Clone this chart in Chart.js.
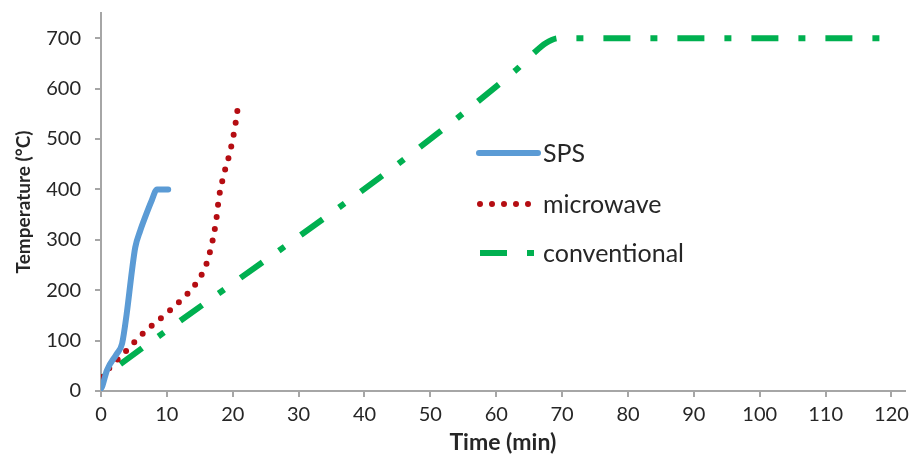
<!DOCTYPE html>
<html>
<head>
<meta charset="utf-8">
<script src="https://cdn.jsdelivr.net/npm/chart.js@4.4.1/dist/chart.umd.min.js"></script>
<style>
  html, body { margin: 0; padding: 0; background: #fff; }
  #wrap { width: 915px; height: 456px; position: relative; }
</style>
</head>
<body>
<div id="wrap"><canvas id="myChart"></canvas></div>
<script>
// time (min) / temperature (°C)
var spsTime = [0, 0.15, 0.9, 2.4, 3.2, 3.9, 4.7, 5.2, 5.95, 6.7, 7.7, 8.5, 10.2];
var spsTemp = [5, 8, 41, 74, 94, 153, 239, 285, 318, 345, 378, 400, 400];

var mwTime = [0, 1.16, 3.78, 6.35, 9.13, 11.9, 14.4, 16.0, 16.9, 17.5, 17.9, 18.6, 19.5, 20.2, 20.7, 20.9];
var mwTemp = [28, 44, 79, 114, 145, 177, 213, 252, 296, 340, 383, 427, 470, 513, 556, 579];

var convTime = [0, 63, 65.5, 67.5, 69.5, 118.5];
var convTemp = [25, 637, 668, 690, 700, 700];

var seriesNames = ["SPS", "microwave", "conventional"];
var seriesColors = ["#5b9bd5", "#b50d12", "#00b050"];

var xTicks = [0, 10, 20, 30, 40, 50, 60, 70, 80, 90, 100, 110, 120];
var yTicks = [0, 100, 200, 300, 400, 500, 600, 700];

function toPoints(xs, ys) {
    var pts = [];
    for (var i = 0; i < xs.length; i++) {
        pts.push({x: xs[i], y: ys[i]});
    }
    return pts;
}

var axisGray = "#a6a6a6";
var textColor = "#262626";
Chart.defaults.font.family = "Lato";
Chart.defaults.color = textColor;

var dashes = [[], [0, 12], [27, 20, 7, 20]];
var caps = ["round", "round", "butt"];

// legend sits inside the plot, to the right of the curves
var insideLegend = {
    id: "insideLegend",
    afterDatasetsDraw: function (chart) {
        var ctx = chart.ctx;
        var rows = [153, 204, 253];
        ctx.save();
        for (var i = 0; i < seriesNames.length; i++) {
            var y = rows[i];
            ctx.strokeStyle = seriesColors[i];
            ctx.lineCap = caps[i];
            ctx.lineWidth = 6;
            ctx.setLineDash(dashes[i]);
            ctx.beginPath();
            if (i === 0) {
                ctx.moveTo(479, y); ctx.lineTo(538, y);
            } else {
                ctx.moveTo(480, y); ctx.lineTo(537, y);
            }
            ctx.stroke();
            ctx.setLineDash([]);
            ctx.fillStyle = textColor;
            ctx.font = "25px Lato";
            ctx.textBaseline = "middle";
            ctx.textAlign = "left";
            ctx.fillText(seriesNames[i], 543, y + 1);
        }
        ctx.restore();
    }
};

var ctx = document.getElementById("myChart");
var data_arr = {
    datasets: [
        {label: seriesNames[0], data: toPoints(spsTime, spsTemp), borderColor: seriesColors[0],
         borderWidth: 6, borderCapStyle: "round", borderJoinStyle: "round"},
        {label: seriesNames[1], data: toPoints(mwTime, mwTemp), borderColor: seriesColors[1],
         borderWidth: 6, borderDash: dashes[1], borderCapStyle: "round"},
        {label: seriesNames[2], data: toPoints(convTime, convTemp), borderColor: seriesColors[2],
         borderWidth: 6, borderDash: dashes[2], borderDashOffset: 50, borderCapStyle: "butt"}
    ]
};

var options = {
    responsive: true,
    maintainAspectRatio: false,
    animation: false,
    layout: {autoPadding: false, padding: {left: 0, top: 13, right: 7, bottom: 0}},
    elements: {
        point: {radius: 0},
        line: {cubicInterpolationMode: "monotone", fill: false}
    },
    plugins: {legend: {display: false}, tooltip: {enabled: false}},
    scales: {
        x: {
            type: "linear",
            min: 0,
            max: 122,
            afterFit: function (scale) { scale.height = 65; },
            afterBuildTicks: function (scale) {
                scale.ticks = xTicks.map(function (v) { return {value: v}; });
            },
            ticks: {stepSize: 10, includeBounds: false, padding: 6, font: {size: 20}, maxRotation: 0},
            border: {display: true, color: axisGray, width: 2},
            grid: {display: true, drawOnChartArea: false, drawTicks: true, tickLength: 6,
                   color: axisGray, lineWidth: 2},
            title: {display: true, text: "Time (min)", font: {size: 23, weight: "bold"},
                    padding: {top: 0, bottom: 0}}
        },
        y: {
            min: 0,
            max: 750,
            afterFit: function (scale) {
                scale.width = 101;
                // the axis runs above the 700 label, so no extra room is needed on top
                scale.paddingTop = 0;
                scale.paddingBottom = 0;
            },
            afterBuildTicks: function (scale) {
                scale.ticks = yTicks.map(function (v) { return {value: v}; });
            },
            ticks: {stepSize: 100, includeBounds: false, padding: 14, font: {size: 20}},
            border: {display: true, color: axisGray, width: 2},
            grid: {display: true, drawOnChartArea: false, drawTicks: true, tickLength: 6,
                   color: axisGray, lineWidth: 2},
            title: {display: true, text: "Temperature (°C)", font: {size: 19, weight: "bold"},
                    padding: {top: 12, bottom: 0}}
        }
    }
};

var firstDiagram = new Chart(ctx, {
    type: "line",
    data: data_arr,
    options: options,
    plugins: [insideLegend]
});
</script>
</body>
</html>
